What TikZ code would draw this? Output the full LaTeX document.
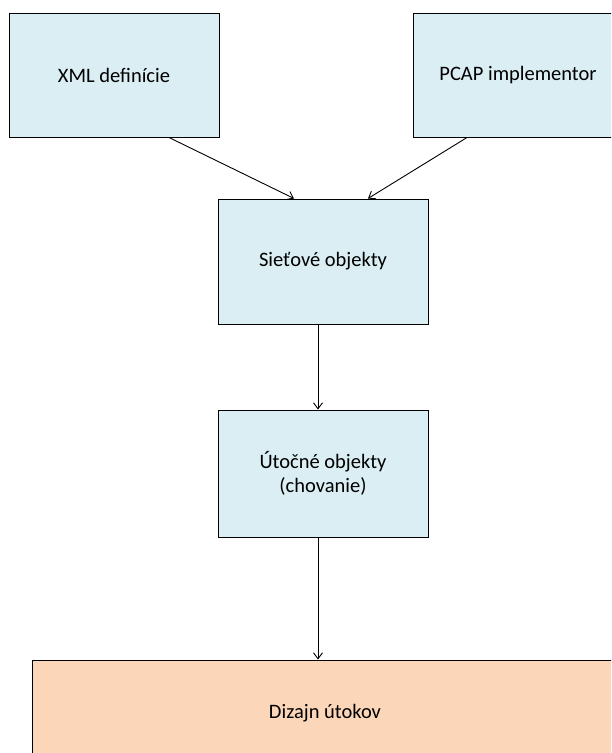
\documentclass[tikz,border=0pt]{standalone}
\usepackage{fontspec}
\setmainfont{Carlito}
\usetikzlibrary{arrows.meta}
\definecolor{boxblue}{HTML}{DAEEF3}
\definecolor{boxpeach}{HTML}{FBD6B8}
\tikzset{
  block/.style={draw=black, line width=1pt, inner sep=0pt, align=center,
    font=\fontsize{20.5}{24}\selectfont},
  bluebox/.style={block, fill=boxblue},
  peachbox/.style={block, fill=boxpeach},
  link/.style={draw=black, line width=0.9pt, -{Straight Barb[length=6pt,width=9pt,line width=0.9pt]}}
}
\begin{document}
\begin{tikzpicture}[x=1pt,y=-1pt]
  \useasboundingbox (0,0) rectangle (611,753);
  \begin{scope}
    \clip (0,0) rectangle (611,753);
    % input blocks
    \node[bluebox, minimum width=210pt, minimum height=124pt] (xml) at (114,75) {XML definície};
    \node[bluebox, minimum width=210pt, minimum height=124pt] (pcap) at (518,75) {PCAP implementor};
    % intermediate objects
    \node[bluebox, minimum width=210pt, minimum height=125pt] (siet) at (323,261.5) {Sieťové objekty};
    \node[bluebox, minimum width=210pt, minimum height=127pt] (utok) at (323,473.5) {Útočné objekty\\(chovanie)};
    % result
    \node[peachbox, minimum width=586pt, minimum height=106pt] (diz) at (325,713) {Dizajn útokov};
    % connectors
    \draw[link] ([xshift=55pt]xml.south) -- ([xshift=-29pt]siet.north);
    \draw[link] ([xshift=-51pt]pcap.south) -- ([xshift=45pt]siet.north);
    \draw[link] ([xshift=-5pt]siet.south) -- ([xshift=-5pt]utok.north);
    \draw[link] ([xshift=-5pt]utok.south) -- ([xshift=-7pt]diz.north);
  \end{scope}
\end{tikzpicture}
\end{document}
